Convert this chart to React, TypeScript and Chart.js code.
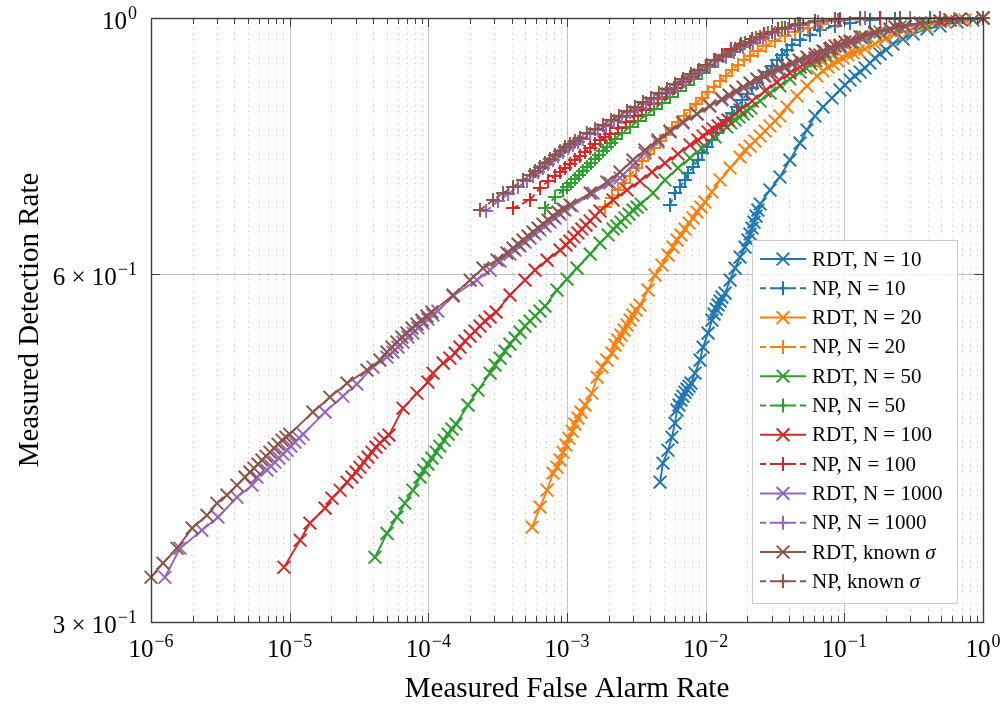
import React, { useEffect, useRef } from "react";
import { Chart, registerables } from "chart.js";
Chart.register(...registerables);

// ---------- data (false alarm rate, detection rate) ----------
const rdt10Far = [4.69e-3, 4.92e-3, 5.35e-3, 5.71e-3, 6.01e-3, 6.21e-3, 6.42e-3, 6.64e-3, 6.86e-3, 7.09e-3, 7.33e-3, 7.59e-3, 7.83e-3, 8.37e-3, 9.10e-3, 9.57e-3, 1.04e-2, 1.11e-2, 1.15e-2, 1.19e-2, 1.23e-2, 1.27e-2, 1.31e-2, 1.38e-2, 1.50e-2, 1.63e-2, 1.77e-2, 1.92e-2, 2.02e-2, 2.09e-2, 2.16e-2, 2.23e-2, 2.31e-2, 2.38e-2, 2.47e-2, 2.91e-2, 3.43e-2, 4.05e-2, 4.79e-2, 5.37e-2, 6.14e-2, 7.01e-2, 8.14e-2, 9.30e-2, 0.101, 0.110, 0.119, 0.130, 0.141, 0.153, 0.166, 0.181, 0.200, 0.224, 0.265, 0.313, 0.395, 0.490, 0.650, 0.847, 1.0];
const rdt10Pd = [0.3964, 0.4117, 0.4225, 0.4336, 0.4459, 0.4576, 0.4622, 0.4668, 0.4705, 0.4743, 0.4772, 0.4800, 0.4829, 0.4926, 0.5056, 0.5189, 0.5336, 0.5476, 0.5542, 0.5597, 0.5643, 0.5688, 0.5733, 0.5779, 0.5931, 0.6074, 0.6209, 0.6334, 0.6423, 0.6501, 0.6579, 0.6658, 0.6738, 0.6819, 0.6902, 0.7097, 0.7284, 0.7534, 0.7794, 0.7999, 0.8225, 0.8375, 0.8526, 0.8663, 0.8750, 0.8838, 0.8908, 0.8979, 0.9051, 0.9142, 0.9234, 0.9307, 0.9382, 0.9495, 0.9590, 0.9686, 0.9784, 0.9841, 0.9920, 0.9960, 1.0];

const np10Far = [5.53e-3, 6.01e-3, 6.53e-3, 7.09e-3, 7.46e-3, 8.11e-3, 8.81e-3, 9.40e-3, 1.02e-2, 1.11e-2, 1.21e-2, 1.31e-2, 1.42e-2, 1.55e-2, 1.68e-2, 1.83e-2, 1.99e-2, 2.16e-2, 2.34e-2, 2.55e-2, 2.77e-2, 3.01e-2, 3.27e-2, 3.55e-2, 3.86e-2, 4.19e-2, 4.79e-2, 5.65e-2, 6.67e-2, 8.56e-2, 0.110, 0.153, 0.232, 0.415, 1.0];
const np10Pd = [0.6888, 0.7054, 0.7140, 0.7240, 0.7341, 0.7430, 0.7534, 0.7640, 0.7732, 0.7841, 0.7951, 0.8063, 0.8160, 0.8275, 0.8375, 0.8492, 0.8594, 0.8698, 0.8785, 0.8873, 0.8979, 0.9088, 0.9197, 0.9289, 0.9382, 0.9476, 0.9571, 0.9667, 0.9764, 0.9841, 0.9900, 0.9960, 0.9980, 1.0, 1.0];

const rdt20Far = [5.60e-4, 6.39e-4, 7.18e-4, 7.93e-4, 8.47e-4, 8.91e-4, 9.36e-4, 9.84e-4, 1.03e-3, 1.09e-3, 1.14e-3, 1.20e-3, 1.26e-3, 1.35e-3, 1.51e-3, 1.65e-3, 1.79e-3, 1.94e-3, 2.11e-3, 2.22e-3, 2.33e-3, 2.45e-3, 2.58e-3, 2.71e-3, 2.85e-3, 2.99e-3, 3.15e-3, 3.36e-3, 3.84e-3, 4.31e-3, 4.84e-3, 5.35e-3, 5.81e-3, 6.21e-3, 6.64e-3, 7.09e-3, 7.59e-3, 8.11e-3, 8.66e-3, 9.25e-3, 9.89e-3, 1.11e-2, 1.27e-2, 1.50e-2, 1.77e-2, 1.92e-2, 2.09e-2, 2.27e-2, 2.47e-2, 2.68e-2, 2.91e-2, 3.16e-2, 3.43e-2, 3.86e-2, 4.55e-2, 5.37e-2, 6.35e-2, 7.01e-2, 7.62e-2, 8.28e-2, 8.99e-2, 9.77e-2, 0.106, 0.116, 0.126, 0.141, 0.166, 0.197, 0.232, 0.298, 0.382, 0.532, 0.741, 1.0];
const rdt20Pd = [0.3624, 0.3772, 0.3901, 0.4036, 0.4084, 0.4142, 0.4208, 0.4268, 0.4327, 0.4388, 0.4451, 0.4504, 0.4558, 0.4622, 0.4733, 0.4887, 0.4986, 0.5056, 0.5127, 0.5210, 0.5262, 0.5315, 0.5368, 0.5422, 0.5476, 0.5531, 0.5586, 0.5642, 0.5814, 0.5990, 0.6111, 0.6234, 0.6334, 0.6423, 0.6488, 0.6566, 0.6645, 0.6712, 0.6792, 0.6860, 0.6929, 0.7069, 0.7240, 0.7415, 0.7579, 0.7686, 0.7747, 0.7825, 0.7904, 0.7983, 0.8063, 0.8144, 0.8225, 0.8375, 0.8560, 0.8733, 0.8908, 0.8997, 0.9070, 0.9124, 0.9179, 0.9234, 0.9289, 0.9326, 0.9363, 0.9401, 0.9495, 0.9590, 0.9686, 0.9764, 0.9841, 0.9920, 0.9960, 1.0];

const np20Far = [1.88e-3, 2.11e-3, 2.33e-3, 2.58e-3, 2.85e-3, 3.15e-3, 3.47e-3, 3.84e-3, 4.24e-3, 4.69e-3, 5.17e-3, 5.71e-3, 6.31e-3, 6.98e-3, 7.71e-3, 8.51e-3, 9.40e-3, 1.04e-2, 1.15e-2, 1.27e-2, 1.40e-2, 1.55e-2, 1.71e-2, 1.89e-2, 2.09e-2, 2.38e-2, 2.72e-2, 3.16e-2, 3.73e-2, 4.41e-2, 5.47e-2, 6.90e-2, 8.99e-2, 0.130, 0.252, 1.0];
const np20Pd = [0.6860, 0.6985, 0.7097, 0.7197, 0.7298, 0.7415, 0.7519, 0.7625, 0.7717, 0.7825, 0.7920, 0.8031, 0.8127, 0.8225, 0.8325, 0.8425, 0.8526, 0.8628, 0.8715, 0.8820, 0.8908, 0.9015, 0.9106, 0.9197, 0.9271, 0.9363, 0.9457, 0.9552, 0.9648, 0.9725, 0.9803, 0.9881, 0.9940, 0.9980, 1.0, 1.0];

const rdt50Far = [4.12e-5, 5.03e-5, 5.94e-5, 6.78e-5, 7.74e-5, 8.71e-5, 9.30e-5, 9.93e-5, 1.06e-4, 1.14e-4, 1.21e-4, 1.30e-4, 1.39e-4, 1.48e-4, 1.58e-4, 1.93e-4, 2.28e-4, 2.79e-4, 3.03e-4, 3.29e-4, 3.57e-4, 3.88e-4, 4.22e-4, 4.58e-4, 4.98e-4, 5.41e-4, 5.88e-4, 6.39e-4, 6.94e-4, 8.47e-4, 1.00e-3, 1.18e-3, 1.47e-3, 1.73e-3, 1.98e-3, 2.15e-3, 2.29e-3, 2.45e-3, 2.62e-3, 2.80e-3, 2.99e-3, 3.20e-3, 3.42e-3, 4.17e-3, 5.09e-3, 6.31e-3, 7.71e-3, 9.40e-3, 1.17e-2, 1.42e-2, 1.52e-2, 1.63e-2, 1.74e-2, 1.86e-2, 1.99e-2, 2.12e-2, 2.47e-2, 2.91e-2, 3.43e-2, 4.05e-2, 4.79e-2, 5.29e-2, 5.75e-2, 6.24e-2, 6.78e-2, 7.37e-2, 8.01e-2, 9.30e-2, 0.114, 0.141, 0.181, 0.252, 0.382, 0.578, 1.0];
const rdt50Pd = [0.3413, 0.3580, 0.3697, 0.3801, 0.3901, 0.4004, 0.4060, 0.4109, 0.4159, 0.4208, 0.4259, 0.4310, 0.4362, 0.4406, 0.4451, 0.4622, 0.4762, 0.4926, 0.5006, 0.5076, 0.5148, 0.5220, 0.5283, 0.5347, 0.5411, 0.5465, 0.5519, 0.5575, 0.5630, 0.5814, 0.5943, 0.6074, 0.6246, 0.6385, 0.6488, 0.6566, 0.6605, 0.6658, 0.6712, 0.6765, 0.6819, 0.6860, 0.6902, 0.7054, 0.7240, 0.7415, 0.7564, 0.7717, 0.7888, 0.8047, 0.8111, 0.8160, 0.8209, 0.8259, 0.8308, 0.8358, 0.8475, 0.8611, 0.8733, 0.8856, 0.8979, 0.9051, 0.9124, 0.9179, 0.9234, 0.9289, 0.9345, 0.9438, 0.9533, 0.9628, 0.9725, 0.9822, 0.9900, 0.9960, 1.0];

const np50Far = [6.94e-4, 8.20e-4, 9.36e-4, 1.00e-3, 1.07e-3, 1.14e-3, 1.22e-3, 1.30e-3, 1.39e-3, 1.49e-3, 1.59e-3, 1.70e-3, 1.82e-3, 1.94e-3, 2.08e-3, 2.22e-3, 2.49e-3, 2.85e-3, 3.25e-3, 3.71e-3, 4.24e-3, 4.84e-3, 5.53e-3, 6.31e-3, 7.21e-3, 8.24e-3, 9.40e-3, 1.07e-2, 1.23e-2, 1.40e-2, 1.63e-2, 1.92e-2, 2.31e-2, 2.81e-2, 3.55e-2, 4.63e-2, 6.14e-2, 9.30e-2, 0.181, 1.0];
const np50Pd = [0.6846, 0.6999, 0.7097, 0.7140, 0.7197, 0.7254, 0.7312, 0.7370, 0.7430, 0.7489, 0.7549, 0.7609, 0.7671, 0.7732, 0.7794, 0.7857, 0.7951, 0.8047, 0.8144, 0.8242, 0.8342, 0.8441, 0.8543, 0.8646, 0.8750, 0.8856, 0.8961, 0.9070, 0.9179, 0.9289, 0.9401, 0.9514, 0.9610, 0.9706, 0.9803, 0.9881, 0.9940, 0.9980, 1.0, 1.0];

const rdt100Far = [9.10e-6, 1.19e-5, 1.40e-5, 1.80e-5, 2.02e-5, 2.31e-5, 2.59e-5, 2.81e-5, 3.01e-5, 3.21e-5, 3.43e-5, 3.67e-5, 3.92e-5, 4.19e-5, 4.48e-5, 4.79e-5, 5.20e-5, 6.56e-5, 8.28e-5, 9.93e-5, 1.08e-4, 1.28e-4, 1.43e-4, 1.56e-4, 1.69e-4, 1.84e-4, 2.00e-4, 2.17e-4, 2.36e-4, 2.56e-4, 2.79e-4, 3.08e-4, 3.88e-4, 4.98e-4, 5.88e-4, 7.18e-4, 8.91e-4, 9.84e-4, 1.05e-3, 1.12e-3, 1.20e-3, 1.28e-3, 1.37e-3, 1.47e-3, 1.59e-3, 1.73e-3, 2.15e-3, 2.71e-3, 3.36e-3, 4.10e-3, 5.09e-3, 6.31e-3, 7.71e-3, 8.81e-3, 9.57e-3, 1.04e-2, 1.13e-2, 1.23e-2, 1.33e-2, 1.45e-2, 1.77e-2, 2.16e-2, 2.68e-2, 3.27e-2, 4.05e-2, 4.79e-2, 5.65e-2, 6.14e-2, 6.67e-2, 7.25e-2, 7.87e-2, 8.56e-2, 0.101, 0.130, 0.166, 0.232, 0.352, 0.578, 1.0];
const rdt100Pd = [0.3346, 0.3531, 0.3653, 0.3764, 0.3839, 0.3901, 0.3964, 0.4004, 0.4044, 0.4084, 0.4125, 0.4167, 0.4208, 0.4251, 0.4284, 0.4319, 0.4354, 0.4594, 0.4733, 0.4839, 0.4926, 0.5026, 0.5076, 0.5127, 0.5189, 0.5251, 0.5304, 0.5357, 0.5411, 0.5465, 0.5509, 0.5564, 0.5756, 0.5931, 0.6050, 0.6172, 0.6296, 0.6359, 0.6410, 0.6462, 0.6514, 0.6566, 0.6618, 0.6672, 0.6738, 0.6806, 0.6957, 0.7097, 0.7226, 0.7355, 0.7489, 0.7625, 0.7763, 0.7841, 0.7904, 0.7967, 0.8015, 0.8063, 0.8111, 0.8160, 0.8325, 0.8475, 0.8646, 0.8803, 0.8961, 0.9070, 0.9179, 0.9234, 0.9289, 0.9345, 0.9401, 0.9457, 0.9533, 0.9628, 0.9725, 0.9822, 0.9900, 0.9960, 1.0];

const np100Far = [4.08e-4, 5.41e-4, 6.39e-4, 7.30e-4, 8.20e-4, 8.91e-4, 9.68e-4, 1.05e-3, 1.14e-3, 1.24e-3, 1.35e-3, 1.47e-3, 1.59e-3, 1.73e-3, 1.88e-3, 2.04e-3, 2.33e-3, 2.66e-3, 3.04e-3, 3.47e-3, 3.96e-3, 4.53e-3, 5.17e-3, 5.91e-3, 6.75e-3, 7.71e-3, 8.81e-3, 1.00e-2, 1.15e-2, 1.31e-2, 1.52e-2, 1.80e-2, 2.16e-2, 2.63e-2, 3.32e-2, 4.41e-2, 6.14e-2, 9.30e-2, 0.181, 1.0];
const np100Pd = [0.6846, 0.6957, 0.7125, 0.7226, 0.7298, 0.7355, 0.7415, 0.7474, 0.7534, 0.7595, 0.7656, 0.7717, 0.7779, 0.7841, 0.7888, 0.7935, 0.8031, 0.8127, 0.8225, 0.8325, 0.8425, 0.8509, 0.8611, 0.8698, 0.8803, 0.8891, 0.8997, 0.9088, 0.9197, 0.9289, 0.9401, 0.9495, 0.9590, 0.9686, 0.9784, 0.9861, 0.9920, 0.9960, 1.0, 1.0];

const rdt1000Far = [1.26e-6, 1.62e-6, 2.33e-6, 3.04e-6, 4.17e-6, 5.35e-6, 5.81e-6, 6.86e-6, 7.33e-6, 7.83e-6, 8.37e-6, 8.95e-6, 9.57e-6, 1.02e-5, 1.09e-5, 1.17e-5, 1.25e-5, 1.80e-5, 2.42e-5, 3.05e-5, 3.99e-5, 5.03e-5, 5.56e-5, 6.04e-5, 6.56e-5, 7.13e-5, 7.74e-5, 8.41e-5, 9.14e-5, 9.93e-5, 1.08e-4, 1.17e-4, 1.51e-4, 2.24e-4, 2.79e-4, 3.29e-4, 3.88e-4, 4.22e-4, 4.58e-4, 4.98e-4, 5.41e-4, 5.88e-4, 6.39e-4, 6.94e-4, 7.55e-4, 8.20e-4, 8.91e-4, 9.68e-4, 1.09e-3, 1.54e-3, 2.04e-3, 2.41e-3, 2.99e-3, 3.65e-3, 4.53e-3, 5.53e-3, 6.86e-3, 8.66e-3, 1.07e-2, 1.31e-2, 1.50e-2, 1.68e-2, 1.89e-2, 2.12e-2, 2.38e-2, 2.68e-2, 3.01e-2, 3.38e-2, 3.79e-2, 4.26e-2, 4.79e-2, 5.47e-2, 6.24e-2, 7.13e-2, 8.14e-2, 9.30e-2, 0.110, 0.134, 0.166, 0.214, 0.274, 0.352, 0.490, 0.683, 1.0];
const rdt1000Pd = [0.3280, 0.3475, 0.3602, 0.3697, 0.3847, 0.3940, 0.4004, 0.4060, 0.4093, 0.4125, 0.4159, 0.4192, 0.4225, 0.4259, 0.4293, 0.4327, 0.4362, 0.4558, 0.4705, 0.4820, 0.4986, 0.5087, 0.5138, 0.5189, 0.5241, 0.5294, 0.5336, 0.5390, 0.5443, 0.5487, 0.5531, 0.5575, 0.5745, 0.5931, 0.6050, 0.6160, 0.6246, 0.6296, 0.6347, 0.6397, 0.6449, 0.6501, 0.6553, 0.6605, 0.6658, 0.6712, 0.6765, 0.6819, 0.6874, 0.7054, 0.7197, 0.7269, 0.7459, 0.7640, 0.7810, 0.7967, 0.8111, 0.8259, 0.8392, 0.8492, 0.8560, 0.8628, 0.8698, 0.8768, 0.8838, 0.8908, 0.8961, 0.9015, 0.9070, 0.9124, 0.9179, 0.9234, 0.9289, 0.9345, 0.9401, 0.9457, 0.9533, 0.9610, 0.9686, 0.9764, 0.9822, 0.9881, 0.9940, 0.9980, 1.0];

const np1000Far = [2.61e-4, 3.18e-4, 3.76e-4, 4.43e-4, 5.15e-4, 5.69e-4, 6.18e-4, 6.71e-4, 7.30e-4, 7.93e-4, 8.61e-4, 9.36e-4, 1.02e-3, 1.10e-3, 1.20e-3, 1.30e-3, 1.47e-3, 1.67e-3, 1.91e-3, 2.18e-3, 2.49e-3, 2.85e-3, 3.25e-3, 3.71e-3, 4.24e-3, 4.84e-3, 5.53e-3, 6.31e-3, 7.21e-3, 8.24e-3, 9.40e-3, 1.07e-2, 1.23e-2, 1.40e-2, 1.60e-2, 1.86e-2, 2.19e-2, 2.59e-2, 3.16e-2, 3.92e-2, 5.03e-2, 6.45e-2, 8.99e-2, 0.141, 0.298, 1.0];
const np1000Pd = [0.6806, 0.6943, 0.7040, 0.7140, 0.7226, 0.7298, 0.7355, 0.7415, 0.7474, 0.7534, 0.7595, 0.7656, 0.7717, 0.7763, 0.7810, 0.7857, 0.7935, 0.7999, 0.8063, 0.8144, 0.8209, 0.8292, 0.8358, 0.8441, 0.8509, 0.8594, 0.8663, 0.8750, 0.8838, 0.8926, 0.8997, 0.9088, 0.9179, 0.9252, 0.9345, 0.9438, 0.9514, 0.9610, 0.9706, 0.9784, 0.9861, 0.9920, 0.9960, 1.0, 1.0, 1.0];

const rdtKnownFar = [1.00e-6, 1.22e-6, 1.54e-6, 1.98e-6, 2.53e-6, 2.99e-6, 3.53e-6, 4.17e-6, 4.76e-6, 5.17e-6, 5.53e-6, 5.91e-6, 6.31e-6, 6.75e-6, 7.21e-6, 7.71e-6, 8.24e-6, 8.81e-6, 9.40e-6, 1.00e-5, 1.47e-5, 1.95e-5, 2.59e-5, 3.61e-5, 4.48e-5, 5.03e-5, 5.47e-5, 5.94e-5, 6.45e-5, 7.01e-5, 7.62e-5, 8.28e-5, 8.99e-5, 9.77e-5, 1.06e-4, 1.51e-4, 2.00e-4, 2.48e-4, 3.13e-4, 3.69e-4, 4.08e-4, 4.43e-4, 4.82e-4, 5.24e-4, 5.69e-4, 6.18e-4, 6.71e-4, 7.30e-4, 7.93e-4, 8.61e-4, 9.36e-4, 1.05e-3, 1.47e-3, 1.94e-3, 2.41e-3, 2.99e-3, 3.65e-3, 4.53e-3, 5.53e-3, 6.86e-3, 8.66e-3, 1.07e-2, 1.31e-2, 1.47e-2, 1.65e-2, 1.86e-2, 2.09e-2, 2.34e-2, 2.63e-2, 2.96e-2, 3.32e-2, 3.73e-2, 4.19e-2, 4.71e-2, 5.37e-2, 6.14e-2, 7.01e-2, 8.01e-2, 9.30e-2, 0.110, 0.134, 0.166, 0.214, 0.274, 0.352, 0.490, 0.683, 1.0];
const rdtKnownPd = [0.3280, 0.3373, 0.3475, 0.3617, 0.3711, 0.3801, 0.3863, 0.3940, 0.4004, 0.4044, 0.4076, 0.4109, 0.4142, 0.4175, 0.4208, 0.4242, 0.4276, 0.4310, 0.4336, 0.4362, 0.4558, 0.4696, 0.4829, 0.4956, 0.5056, 0.5138, 0.5189, 0.5241, 0.5294, 0.5336, 0.5390, 0.5432, 0.5476, 0.5519, 0.5564, 0.5756, 0.5931, 0.6074, 0.6172, 0.6258, 0.6321, 0.6372, 0.6423, 0.6475, 0.6527, 0.6579, 0.6632, 0.6685, 0.6738, 0.6792, 0.6833, 0.6888, 0.7054, 0.7211, 0.7355, 0.7534, 0.7686, 0.7841, 0.7983, 0.8127, 0.8259, 0.8392, 0.8509, 0.8577, 0.8646, 0.8715, 0.8785, 0.8856, 0.8908, 0.8979, 0.9033, 0.9088, 0.9142, 0.9197, 0.9252, 0.9307, 0.9363, 0.9420, 0.9476, 0.9552, 0.9628, 0.9706, 0.9784, 0.9841, 0.9900, 0.9940, 0.9980, 1.0];

const npKnownFar = [2.36e-4, 2.93e-4, 3.46e-4, 4.08e-4, 4.82e-4, 5.41e-4, 5.88e-4, 6.39e-4, 6.94e-4, 7.55e-4, 8.20e-4, 8.91e-4, 9.68e-4, 1.05e-3, 1.14e-3, 1.24e-3, 1.39e-3, 1.59e-3, 1.82e-3, 2.08e-3, 2.37e-3, 2.71e-3, 3.09e-3, 3.53e-3, 4.03e-3, 4.60e-3, 5.26e-3, 6.01e-3, 6.86e-3, 7.83e-3, 8.95e-3, 1.02e-2, 1.17e-2, 1.33e-2, 1.52e-2, 1.77e-2, 2.09e-2, 2.47e-2, 3.01e-2, 3.73e-2, 4.79e-2, 6.14e-2, 8.56e-2, 0.130, 0.252, 0.490, 1.0];
const npKnownPd = [0.6819, 0.6957, 0.7054, 0.7140, 0.7240, 0.7312, 0.7370, 0.7430, 0.7489, 0.7549, 0.7609, 0.7671, 0.7732, 0.7779, 0.7825, 0.7872, 0.7951, 0.8015, 0.8079, 0.8160, 0.8225, 0.8308, 0.8375, 0.8458, 0.8526, 0.8611, 0.8680, 0.8768, 0.8856, 0.8944, 0.9015, 0.9106, 0.9197, 0.9271, 0.9363, 0.9457, 0.9533, 0.9628, 0.9725, 0.9803, 0.9881, 0.9940, 0.9980, 1.0, 1.0, 1.0, 1.0];

// ---------- axis ticks ----------
const xMajorTicks = [1e-6, 1e-5, 1e-4, 1e-3, 1e-2, 1e-1, 1];
const xTickExponents = ["−6", "−5", "−4", "−3", "−2", "−1", "0"];
const yTicks = [0.3, 0.6, 1.0];
const yTickMantissas = ["3 × 10", "6 × 10", "10"];
const yTickExponents = ["−1", "−1", "0"];
const minorMultipliers = [2, 3, 4, 5, 6, 7, 8, 9];

const SERIF = "'Liberation Serif', 'DejaVu Serif', 'Times New Roman', serif";

type Series = { label: string; far: number[]; pd: number[]; color: string; np: boolean };

const SERIES: Series[] = [
  { label: "RDT, N = 10", far: rdt10Far, pd: rdt10Pd, color: "#1f77b4", np: false },
  { label: "NP, N = 10", far: np10Far, pd: np10Pd, color: "#1f77b4", np: true },
  { label: "RDT, N = 20", far: rdt20Far, pd: rdt20Pd, color: "#ff7f0e", np: false },
  { label: "NP, N = 20", far: np20Far, pd: np20Pd, color: "#ff7f0e", np: true },
  { label: "RDT, N = 50", far: rdt50Far, pd: rdt50Pd, color: "#2ca02c", np: false },
  { label: "NP, N = 50", far: np50Far, pd: np50Pd, color: "#2ca02c", np: true },
  { label: "RDT, N = 100", far: rdt100Far, pd: rdt100Pd, color: "#d62728", np: false },
  { label: "NP, N = 100", far: np100Far, pd: np100Pd, color: "#d62728", np: true },
  { label: "RDT, N = 1000", far: rdt1000Far, pd: rdt1000Pd, color: "#9467bd", np: false },
  { label: "NP, N = 1000", far: np1000Far, pd: np1000Pd, color: "#9467bd", np: true },
  { label: "RDT, known σ", far: rdtKnownFar, pd: rdtKnownPd, color: "#8c564b", np: false },
  { label: "NP, known σ", far: npKnownFar, pd: npKnownPd, color: "#8c564b", np: true },
];

const X_R = 9; // crossRot radius
const P_R = 7; // cross radius
const MARK_W = 2;
const LINE_W = 1.9;
const DASH = [6, 4];

function drawPow(ctx: CanvasRenderingContext2D, base: string, exp: string, x: number, y: number, align: "center" | "right", bs: number, ss: number, raise: number) {
  ctx.font = `${bs}px ${SERIF}`;
  const wb = ctx.measureText(base).width;
  ctx.font = `${ss}px ${SERIF}`;
  const we = ctx.measureText(exp).width;
  const total = wb + we + 1;
  const x0 = align === "center" ? x - total / 2 : x - total;
  ctx.textAlign = "left";
  ctx.textBaseline = "alphabetic";
  ctx.fillStyle = "#000";
  ctx.font = `${bs}px ${SERIF}`;
  ctx.fillText(base, x0, y);
  ctx.font = `${ss}px ${SERIF}`;
  ctx.fillText(exp, x0 + wb + 1, y - raise);
}

function drawMarker(ctx: CanvasRenderingContext2D, x: number, y: number, np: boolean) {
  ctx.beginPath();
  if (np) {
    ctx.moveTo(x - P_R, y); ctx.lineTo(x + P_R, y);
    ctx.moveTo(x, y - P_R); ctx.lineTo(x, y + P_R);
  } else {
    const d = X_R * Math.SQRT1_2;
    ctx.moveTo(x - d, y - d); ctx.lineTo(x + d, y + d);
    ctx.moveTo(x - d, y + d); ctx.lineTo(x + d, y - d);
  }
  ctx.stroke();
}

const decoPlugin = {
  id: "deco",
  beforeDraw(chart: any) {
    const ctx = chart.ctx;
    ctx.save();
    ctx.fillStyle = "#ffffff";
    ctx.fillRect(0, 0, chart.width, chart.height);
    ctx.restore();
  },
  beforeDatasetsDraw(chart: any) {
    const ctx: CanvasRenderingContext2D = chart.ctx;
    const { left, right, top, bottom } = chart.chartArea;
    const xs = chart.scales.x;
    const ys = chart.scales.y;
    ctx.save();
    // minor dotted vertical grid
    ctx.strokeStyle = "#c6c6c6";
    ctx.lineWidth = 1;
    ctx.setLineDash([1, 5]);
    for (let i = 0; i < xMajorTicks.length - 1; i++) {
      for (const m of minorMultipliers) {
        const px = Math.round(xs.getPixelForValue(xMajorTicks[i] * m)) + 0.5;
        ctx.beginPath(); ctx.moveTo(px, bottom); ctx.lineTo(px, top); ctx.stroke();
      }
    }
    ctx.setLineDash([]);
    // major grid
    ctx.strokeStyle = "#c4c4c4";
    for (const v of xMajorTicks) {
      const px = Math.round(xs.getPixelForValue(v)) + 0.5;
      ctx.beginPath(); ctx.moveTo(px, bottom); ctx.lineTo(px, top); ctx.stroke();
    }
    for (const v of yTicks) {
      const py = Math.round(ys.getPixelForValue(v)) + 0.5;
      ctx.beginPath(); ctx.moveTo(left, py); ctx.lineTo(right, py); ctx.stroke();
    }
    ctx.restore();
  },
  afterDatasetsDraw(chart: any) {
    const ctx: CanvasRenderingContext2D = chart.ctx;
    const { left, right, top, bottom } = chart.chartArea;
    const xs = chart.scales.x;
    const ys = chart.scales.y;
    ctx.save();
    // ticks
    ctx.strokeStyle = "#404040";
    ctx.lineWidth = 1;
    for (let i = 0; i < xMajorTicks.length; i++) {
      const px = Math.round(xs.getPixelForValue(xMajorTicks[i])) + 0.5;
      ctx.beginPath();
      ctx.moveTo(px, bottom); ctx.lineTo(px, bottom - 9);
      ctx.moveTo(px, top); ctx.lineTo(px, top + 9);
      ctx.stroke();
      if (i < xMajorTicks.length - 1) {
        for (const m of minorMultipliers) {
          const mx = Math.round(xs.getPixelForValue(xMajorTicks[i] * m)) + 0.5;
          ctx.beginPath();
          ctx.moveTo(mx, bottom); ctx.lineTo(mx, bottom - 6);
          ctx.moveTo(mx, top); ctx.lineTo(mx, top + 6);
          ctx.stroke();
        }
      }
    }
    for (const v of yTicks) {
      const py = Math.round(ys.getPixelForValue(v)) + 0.5;
      ctx.beginPath();
      ctx.moveTo(left, py); ctx.lineTo(left + 9, py);
      ctx.moveTo(right, py); ctx.lineTo(right - 9, py);
      ctx.stroke();
    }
    // frame
    ctx.strokeStyle = "#3c3c3c";
    ctx.lineWidth = 1.4;
    ctx.strokeRect(Math.round(left) + 0.5, Math.round(top) + 0.5, Math.round(right - left), Math.round(bottom - top));

    // tick labels
    for (let i = 0; i < xMajorTicks.length; i++) {
      const px = xs.getPixelForValue(xMajorTicks[i]);
      drawPow(ctx, "10", xTickExponents[i], px, bottom + 35, "center", 25, 18, 10);
    }
    for (let i = 0; i < yTicks.length; i++) {
      const py = ys.getPixelForValue(yTicks[i]);
      drawPow(ctx, yTickMantissas[i], yTickExponents[i], left - 14, py + 11, "right", 25, 18, 10);
    }

    // axis titles
    ctx.fillStyle = "#000";
    ctx.font = `29px ${SERIF}`;
    ctx.textAlign = "center";
    ctx.textBaseline = "alphabetic";
    ctx.fillText("Measured False Alarm Rate", (left + right) / 2, 697);
    ctx.save();
    ctx.translate(38, (top + bottom) / 2);
    ctx.rotate(-Math.PI / 2);
    ctx.fillText("Measured Detection Rate", 0, 0);
    ctx.restore();

    // legend
    const lx = 752, ly = 240, lw = 205, lh = 363;
    ctx.fillStyle = "rgba(255,255,255,0.82)";
    ctx.fillRect(lx, ly, lw, lh);
    ctx.strokeStyle = "#cccccc";
    ctx.lineWidth = 1;
    ctx.strokeRect(lx + 0.5, ly + 0.5, lw, lh);
    const rowH = 29.3;
    SERIES.forEach((s, i) => {
      const cy = ly + 19 + i * rowH;
      ctx.strokeStyle = s.color;
      ctx.lineWidth = MARK_W;
      ctx.setLineDash(s.np ? DASH : []);
      ctx.beginPath(); ctx.moveTo(760, cy); ctx.lineTo(806, cy); ctx.stroke();
      ctx.setLineDash([]);
      drawMarker(ctx, 783, cy, s.np);
      ctx.fillStyle = "#000";
      ctx.textAlign = "left";
      ctx.textBaseline = "middle";
      const sig = s.label.endsWith("σ");
      const main = sig ? s.label.slice(0, -1) : s.label;
      ctx.font = `21px ${SERIF}`;
      ctx.fillText(main, 812, cy + 1);
      if (sig) {
        const w = ctx.measureText(main).width;
        ctx.font = `italic 21px ${SERIF}`;
        ctx.fillText("σ", 812 + w, cy + 1);
      }
    });
    ctx.restore();
  },
};

export default function App() {
  const ref = useRef<HTMLCanvasElement | null>(null);
  useEffect(() => {
    if (!ref.current) return;
    const datasets = SERIES.map((s, i) => {
      const n = Math.min(s.far.length, s.pd.length);
      const data = [] as { x: number; y: number }[];
      for (let k = 0; k < n; k++) data.push({ x: s.far[k], y: s.pd[k] });
      return {
        label: s.label,
        data,
        showLine: true,
        borderColor: s.color,
        backgroundColor: s.color,
        borderWidth: LINE_W,
        borderDash: s.np ? DASH : [],
        pointStyle: s.np ? "cross" : "crossRot",
        pointRadius: s.np ? P_R : X_R,
        pointBorderWidth: MARK_W,
        pointBorderColor: s.color,
        pointBackgroundColor: s.color,
        tension: 0,
        clip: false as any,
        order: -i,
      };
    });
    const chart = new Chart(ref.current, {
      type: "scatter",
      data: { datasets: datasets as any },
      options: {
        animation: false,
        responsive: false,
        devicePixelRatio: 1,
        events: [],
        layout: { padding: { left: 151, right: 19, top: 18, bottom: 82 } },
        plugins: { legend: { display: false }, tooltip: { enabled: false } },
        scales: {
          x: { type: "logarithmic", min: 1e-6, max: 1, display: false },
          y: { type: "logarithmic", min: 0.3, max: 1, display: false },
        },
      },
      plugins: [decoPlugin as any],
    });
    return () => chart.destroy();
  }, []);
  return (
    <div style={{ position: "fixed", left: 0, top: 0, width: 1002, height: 704, background: "#fff" }}>
      <canvas ref={ref} width={1002} height={704} style={{ display: "block", width: 1002, height: 704 }} />
    </div>
  );
}
